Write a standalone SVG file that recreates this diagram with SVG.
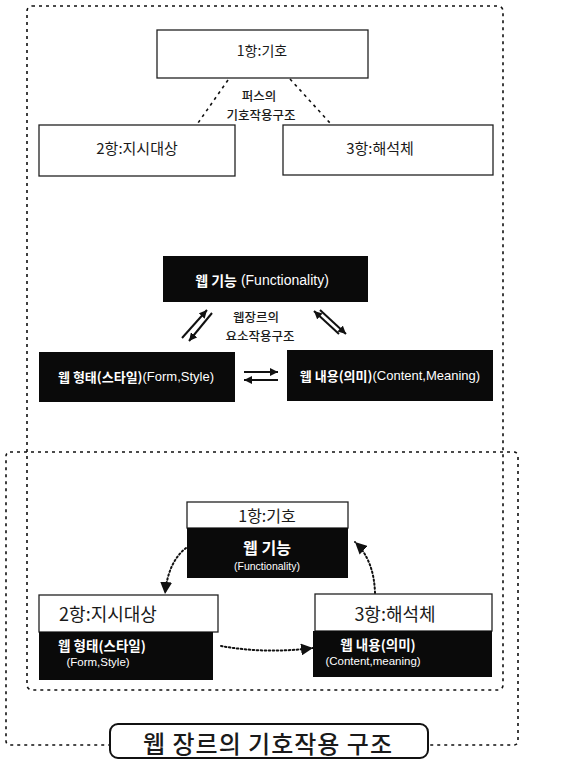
<svg xmlns="http://www.w3.org/2000/svg" width="566" height="760" viewBox="0 0 566 760">
<style>
.dash{fill:none;stroke:#111;stroke-width:1.6;stroke-dasharray:3 4}
.box{fill:#fff;stroke:#222;stroke-width:1.3}
.blk{fill:#0a0a0a}
.kr{font-family:"Noto Sans CJK KR","Noto Sans",sans-serif}
.lt{font-family:"Liberation Sans","Noto Sans CJK KR",sans-serif}
.c{text-anchor:middle;dominant-baseline:central}
.w{fill:#fff}
.d{fill:#1a1a1a}
.arr{fill:none;stroke:#111;stroke-width:2}
.dot{fill:none;stroke:#111;stroke-width:2;stroke-dasharray:1.5 2.5;stroke-linecap:round}
</style>
<defs>
<marker id="ah" viewBox="0 0 10 10" refX="10" refY="5" markerWidth="8" markerHeight="8" markerUnits="userSpaceOnUse" orient="auto"><path d="M0,0 L10,5 L0,10 z" fill="#111"/></marker>
<marker id="tri" viewBox="0 0 12 12" refX="12" refY="6" markerWidth="12" markerHeight="12" markerUnits="userSpaceOnUse" orient="auto"><path d="M0,0 L12,6 L0,12 z" fill="#111"/></marker>
</defs>
<rect width="566" height="760" fill="#fff"/>

<g id="frames">
<rect class="dash" x="27" y="6" width="476" height="684" rx="5"/>
<rect class="dash" x="6" y="452" width="512" height="293" rx="4"/>
</g>

<g id="connectors">
<line class="dash" x1="228" y1="80" x2="198" y2="123"/>
<line class="dash" x1="290" y1="79" x2="330" y2="123"/>
<line class="arr" x1="182" y1="338" x2="207" y2="310" marker-end="url(#ah)"/>
<line class="arr" x1="212" y1="313" x2="189" y2="341" marker-end="url(#ah)"/>
<line class="arr" x1="339" y1="334" x2="314" y2="311" marker-end="url(#ah)"/>
<line class="arr" x1="320" y1="310" x2="346" y2="334" marker-end="url(#ah)"/>
<line class="arr" x1="244" y1="372" x2="278" y2="372" marker-end="url(#ah)"/>
<line class="arr" x1="278" y1="380" x2="244" y2="380" marker-end="url(#ah)"/>
<path class="dot" d="M186,548 Q168,562 165,594" marker-end="url(#tri)"/>
<path class="dot" d="M375,593 Q374,560 355,542" marker-end="url(#tri)"/>
<path class="dot" d="M221,646 Q265,654 313,648" marker-end="url(#tri)"/>
</g>

<g id="top-sign">
<rect class="box" x="157" y="30" width="211" height="48"/>
<text class="kr c d" x="262" y="50" font-size="14">1항:기호</text>
</g>
<g id="top-label">
<text class="kr c d" x="259" y="95" font-size="12.5" font-weight="500">퍼스의</text>
<text class="kr c d" x="261" y="114" font-size="12.5" font-weight="500">기호작용구조</text>
</g>
<g id="top-object">
<rect class="box" x="39" y="125" width="196" height="51"/>
<text class="kr c d" x="137" y="147" font-size="15">2항:지시대상</text>
</g>
<g id="top-interpretant">
<rect class="box" x="283" y="125" width="210" height="50"/>
<text class="kr c d" x="380" y="147" font-size="15">3항:해석체</text>
</g>

<g id="web-function">
<rect class="blk" x="163" y="256" width="205" height="46"/>
<text class="lt c w" x="262" y="280" font-size="14"><tspan class="kr" font-weight="700">웹 기능</tspan> (Functionality)</text>
</g>
<g id="mid-label">
<text class="kr c d" x="256" y="316" font-size="12.5" font-weight="500">웹장르의</text>
<text class="kr c d" x="260" y="335" font-size="12.5" font-weight="500">요소작용구조</text>
</g>
<g id="web-form">
<rect class="blk" x="39" y="352" width="196" height="50"/>
<text class="lt c w" x="136" y="376" font-size="13"><tspan class="kr" font-weight="700">웹 형태(스타일)</tspan>(Form,Style)</text>
</g>
<g id="web-content">
<rect class="blk" x="287" y="350" width="206" height="51"/>
<text class="lt c w" x="390" y="375" font-size="13"><tspan class="kr" font-weight="700">웹 내용(의미)</tspan>(Content,Meaning)</text>
</g>

<g id="bottom-sign">
<rect class="box" x="187" y="502" width="161" height="26"/>
<rect class="blk" x="187" y="528" width="161" height="50"/>
<text class="kr c d" x="267" y="515" font-size="16">1항:기호</text>
<text class="kr c w" x="267" y="547" font-size="16" font-weight="700">웹 기능</text>
<text class="lt c w" x="267" y="566" font-size="10.5">(Functionality)</text>
</g>
<g id="bottom-object">
<rect class="box" x="39" y="595" width="179" height="37"/>
<rect class="blk" x="39" y="632" width="174" height="48"/>
<text class="kr c d" x="108" y="613" font-size="18">2항:지시대상</text>
<text class="kr c w" x="102" y="645" font-size="13.5" font-weight="700">웹 형태(스타일)</text>
<text class="lt c w" x="98" y="662" font-size="11.5">(Form,Style)</text>
</g>
<g id="bottom-interpretant">
<rect class="box" x="315" y="594" width="177" height="37"/>
<rect class="blk" x="313" y="631" width="179" height="46"/>
<text class="kr c d" x="395" y="613" font-size="18">3항:해석체</text>
<text class="kr c w" x="378" y="644" font-size="13.5" font-weight="700">웹 내용(의미)</text>
<text class="lt c w" x="373" y="661" font-size="11.5">(Content,meaning)</text>
</g>

<g id="title">
<rect x="110" y="724" width="318" height="34" rx="8" fill="#fff" stroke="#111" stroke-width="2"/>
<text class="kr c d" x="268" y="742" font-size="24" font-weight="500" letter-spacing="1">웹 장르의 기호작용 구조</text>
</g>
</svg>
